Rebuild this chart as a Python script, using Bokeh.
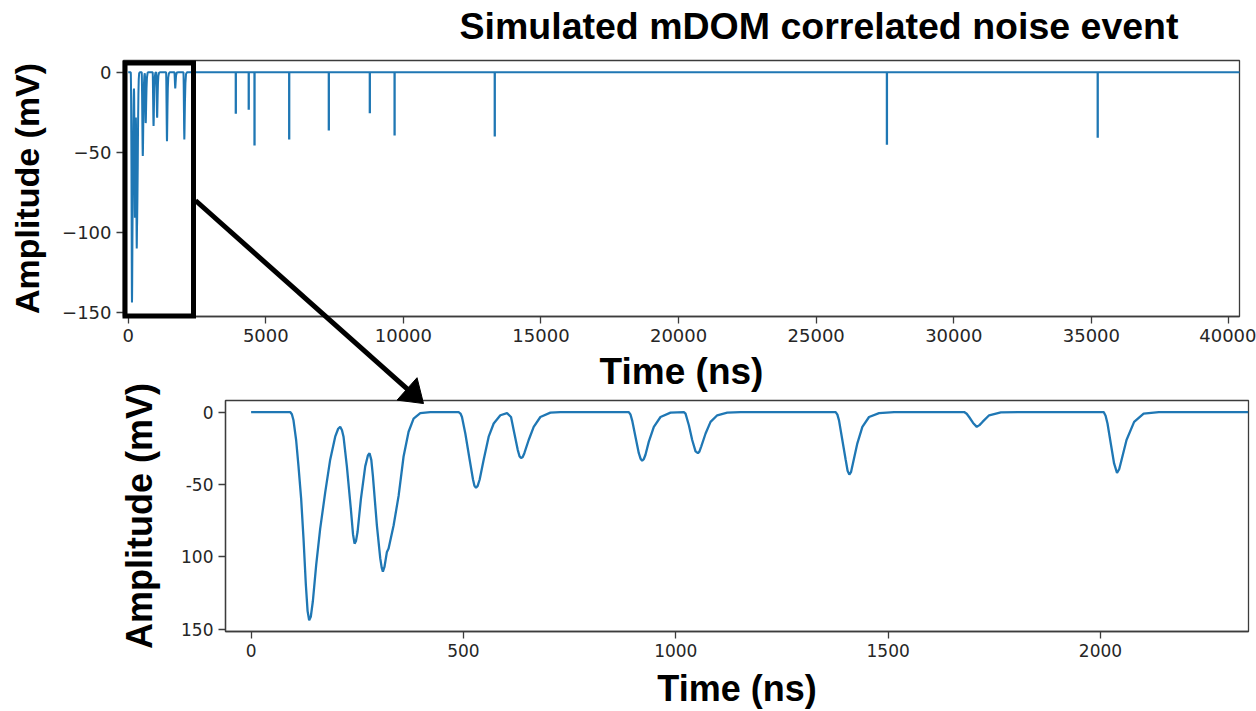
from bokeh.plotting import figure
from bokeh.models import Range1d, FixedTicker, Label
from bokeh.embed import file_html
from bokeh.resources import INLINE

# ---------------- data ----------------
# zoomed waveform (first ~2.35 us of the event)
zoom_time_ns = [0, 92, 96, 99.8, 106, 111.6, 117.9, 123.4, 128.9, 133, 136.7, 140.5, 145.4,
                153.2, 162.6, 174.4, 186.2, 198, 205, 209.8, 214, 217.6, 225.5, 234.9, 240,
                243.6, 247, 250.6, 258.5, 268.7, 275, 278.9, 283, 286.8, 296.2, 304.1, 307.5,
                310.3, 314, 319.8, 323.7, 335.5, 347.3, 359.0, 370.8, 382.6, 398.3, 421.9,
                488.7, 493, 496.5, 504.4, 514.6, 522.5, 526, 529.5, 533.5, 538.2, 547.6,
                559.4, 571.2, 586.9, 602.6, 612, 619.9, 627.8, 632, 635.6, 639.5, 643.4,
                653.6, 665.4, 681.1, 704.7, 728.3, 889.3, 893.5, 897.2, 905, 912.9, 917,
                920.8, 924.5, 928.6, 936.5, 948.3, 964, 987.6, 1019, 1022.9, 1030.8, 1038.6,
                1046.5, 1052, 1055.5, 1059.8, 1070.1, 1081.8, 1097.6, 1121.1, 1152.5,
                1376.4, 1380.5, 1384.3, 1392.1, 1400, 1404.5, 1408.6, 1412.5, 1417.3,
                1427.5, 1439.3, 1455, 1478.6, 1514, 1678.9, 1685, 1690.7, 1700, 1708.7,
                1715, 1722.1, 1737.8, 1765.3, 1828.2, 2007.5, 2012, 2016.5, 2025.4, 2032,
                2038.9, 2044, 2049.7, 2061.3, 2079.2, 2101.6, 2137.4, 2348]
zoom_amp_mV = [0, 0, -1.5, -5.7, -19.3, -37.5, -60.2, -87.5, -119.3, -137.5, -143.9, -141.5,
               -130.7, -105.7, -80.7, -55.7, -32.9, -17, -11.5, -10.2, -12.5, -17, -37.5,
               -67, -84.5, -90.9, -89, -82.9, -60.2, -37.5, -30, -28.4, -33, -44.3, -78.4,
               -101.1, -107.5, -110.2, -107, -96.6, -94.3, -78.4, -57.9, -30.7, -13.6, -4.5,
               -0.7, 0, 0, -1, -3.4, -14.8, -32.9, -46.6, -51, -52.3, -51, -46.6, -32.9,
               -17, -7.9, -2.2, -0.7, -3.4, -14.8, -26.1, -30.5, -31.8, -31, -28.4,
               -19.3, -10.2, -3.4, -0.4, 0, 0, -1.8, -5.7, -17, -28.4, -32.2,
               -33.6, -32.6, -29.5, -20.4, -10.2, -3.4, -0.4, 0, -1.1, -9.1, -19.3,
               -27.2, -28.4, -27.3, -23.8, -14.8, -6.8, -2.2, -0.4, 0,
               0, -1.8, -5.7, -19.3, -32.9, -40.5, -43.2, -41.5, -35.2,
               -21.6, -10.2, -3.4, -0.7, 0, 0, -1.2, -3.4, -7.5, -10.2,
               -9, -6.8, -2.2, -0.2, 0, 0, -2.5, -7.9, -23.8, -35.5,
               -42, -39.5, -32.9, -19.3, -6.8, -1.1, 0, 0]

# later isolated pulses in the full record
spike_time_ns = [3910, 4380, 4590, 5850, 7290, 8780, 9680, 13320, 27570, 35230]
spike_depth_mV = [26, 23.5, 45.8, 42, 36.5, 25.6, 39.6, 40.2, 45.4, 41]
record_end_ns = 40400

top_x_ticks = [0, 5000, 10000, 15000, 20000, 25000, 30000, 35000, 40000]
bottom_x_ticks = [0, 500, 1000, 1500, 2000]
y_ticks = [0, -50, -100, -150]
top_y_tick_labels = ["0", "\u221250", "\u2212100", "\u2212150"]
bottom_y_tick_labels = ["0", "-50", "100", "150"]

TITLE = "Simulated mDOM correlated noise event"

# ---------------- styling / layout constants ----------------
LINE = "#1f77b4"
FRAME = "#3c3c3c"
LABEL_FONT = "Liberation Sans"
TICK_FONT = "DejaVu Sans"
W, H = 1256, 711

# top plot frame geometry (pixels) and ranges
T_LEFT, T_RIGHT, T_TOP, T_BOTTOM, T_HEIGHT = 123, 1239, 60, 316, 400
T_X = (-171, 40382)
T_Y = (-152.7, 7.3)

# zoom window marked on the top plot, and the arrow anchors (top-plot data units)
ZOOM_BOX = dict(left=-116, right=2373, top=5.75, bottom=-152.4)
ARROW_START = (2445, -80.2)
ARROW_END = (10730, -207.1)
TITLE_RIGHT_PX, TITLE_ANCHOR_PX = 1178, 25


def absolute(top_px):
    return {"position": "absolute", "left": "0px", "top": f"{top_px}px"}


def style(p, xticks, yticks, ylabels, tick_size, xlabel_size, ylabel_size, ystand, xstand):
    p.grid.visible = False
    p.outline_line_color = FRAME
    p.outline_line_width = 1.3
    for ax in (p.xaxis[0], p.yaxis[0]):
        ax.axis_line_color = FRAME
        ax.axis_line_width = 1.3
        ax.major_tick_line_color = FRAME
        ax.major_tick_line_width = 1.3
        ax.major_tick_in = 0
        ax.major_tick_out = 7
        ax.minor_tick_line_color = None
        ax.major_label_text_font = TICK_FONT
        ax.major_label_text_font_size = tick_size
        ax.major_label_text_color = "#262626"
        ax.axis_label_text_font = LABEL_FONT
        ax.axis_label_text_font_style = "bold"
        ax.axis_label_text_color = "black"
    p.xaxis[0].axis_label_text_font_size = xlabel_size
    p.yaxis[0].axis_label_text_font_size = ylabel_size
    p.xaxis[0].ticker = FixedTicker(ticks=xticks)
    p.yaxis[0].ticker = FixedTicker(ticks=yticks)
    p.yaxis[0].major_label_overrides = {t: s for t, s in zip(yticks, ylabels)}
    p.xaxis[0].major_label_standoff = 5
    p.yaxis[0].major_label_standoff = 5
    p.xaxis[0].axis_label = "Time (ns)"
    p.yaxis[0].axis_label = "Amplitude (mV)"
    p.xaxis[0].axis_label_standoff = xstand
    p.yaxis[0].axis_label_standoff = ystand


# ---------------- top: full record ----------------
top = figure(width=W, height=T_HEIGHT, output_backend="svg", toolbar_location=None,
             x_range=Range1d(*T_X), y_range=Range1d(*T_Y),
             min_border_left=T_LEFT, min_border_right=W - T_RIGHT, min_border_top=T_TOP,
             min_border_bottom=T_HEIGHT - T_BOTTOM, styles=absolute(0))
style(top, top_x_ticks, y_ticks, top_y_tick_labels, "18px", "37px", "34px", 13, 6)

top.line(zoom_time_ns + [record_end_ns], zoom_amp_mV + [0], line_color=LINE,
         line_width=2)
top.segment(x0=spike_time_ns, y0=[0] * len(spike_time_ns), x1=spike_time_ns,
            y1=[-d for d in spike_depth_mV], line_color=LINE, line_width=2.3)

# ---------------- bottom: zoom on first 2.35 us ----------------
B_TOP_PX, B_HEIGHT = 360, 351
bot = figure(width=W, height=B_HEIGHT, output_backend="svg", toolbar_location=None,
             x_range=Range1d(-60.3, 2348.5), y_range=Range1d(-151.6, 8.0),
             min_border_left=225, min_border_right=8, min_border_top=40,
             min_border_bottom=77, background_fill_alpha=0, border_fill_alpha=0,
             styles=absolute(B_TOP_PX))
style(bot, bottom_x_ticks, y_ticks, bottom_y_tick_labels, "17px", "36px", "36px", 18, 8)
bot.line(zoom_time_ns, zoom_amp_mV, line_color=LINE, line_width=2.3)

# ---------------- overlay: title, zoom box + arrow, in the top plot's data units ----------------
sx = (T_X[1] - T_X[0]) / (T_RIGHT - T_LEFT)     # ns per pixel
sy = (T_Y[1] - T_Y[0]) / (T_BOTTOM - T_TOP)     # mV per pixel
ov = figure(width=W, height=H, output_backend="svg", toolbar_location=None,
            x_range=Range1d(T_X[0] - T_LEFT * sx, T_X[1] + (W - T_RIGHT) * sx),
            y_range=Range1d(T_Y[0] - (H - T_BOTTOM) * sy, T_Y[1] + T_TOP * sy),
            x_axis_type=None, y_axis_type=None, min_border=0,
            background_fill_alpha=0, border_fill_alpha=0, outline_line_color=None,
            styles=absolute(0))
ov.grid.visible = False

ov.add_layout(Label(x=T_X[1] - (T_RIGHT - TITLE_RIGHT_PX) * sx,
                    y=T_Y[1] + (T_TOP - TITLE_ANCHOR_PX) * sy,
                    text=TITLE, text_align="right", text_baseline="alphabetic",
                    text_font=LABEL_FONT, text_font_style="bold",
                    text_font_size="37.5px", text_color="black"))

ov.quad(left=[ZOOM_BOX["left"]], right=[ZOOM_BOX["right"]], top=[ZOOM_BOX["top"]],
        bottom=[ZOOM_BOX["bottom"]], fill_alpha=0, line_color="black", line_width=5,
        line_join="miter")

# arrow: shaft + triangular head (head size given in pixels)
sxp, syp = ARROW_START[0] / sx, ARROW_START[1] / sy
exp_, eyp = ARROW_END[0] / sx, ARROW_END[1] / sy
dx, dy = exp_ - sxp, eyp - syp
ln = (dx ** 2 + dy ** 2) ** 0.5
ux, uy = dx / ln, dy / ln
HEAD_LEN, HEAD_HALF = 22, 15
bx, by = exp_ - HEAD_LEN * ux, eyp - HEAD_LEN * uy
head_x = [exp_ * sx, (bx - HEAD_HALF * uy) * sx, (bx + HEAD_HALF * uy) * sx]
head_y = [eyp * sy, (by + HEAD_HALF * ux) * sy, (by - HEAD_HALF * ux) * sy]
ov.segment(x0=[ARROW_START[0]], y0=[ARROW_START[1]], x1=[(bx + 2 * ux) * sx],
           y1=[(by + 2 * uy) * sy], line_color="black", line_width=5)
ov.patch(head_x, head_y, fill_color="black", line_color="black", line_width=1)

open("out.html", "w").write(file_html([top, bot, ov], INLINE))
